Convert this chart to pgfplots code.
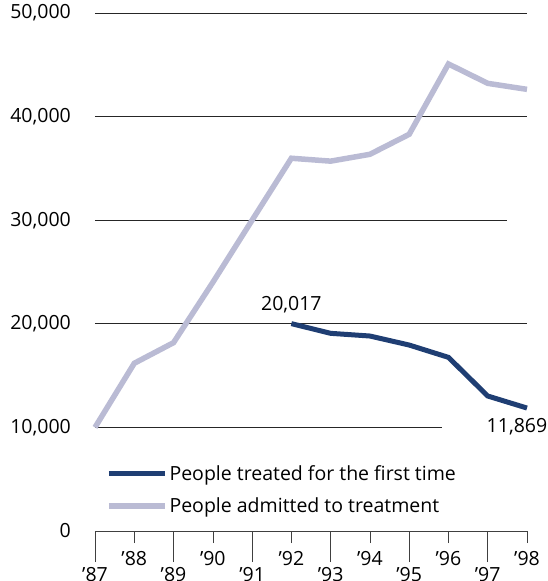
\documentclass[border=0pt]{standalone}
\usepackage{pgfplots}
\pgfplotsset{compat=1.18}
\usepackage{fontspec}
\setmainfont{Open Sans}
\definecolor{navy}{RGB}{31,62,115}
\definecolor{lav}{RGB}{186,187,212}
\newcommand{\fs}{\fontsize{19.5}{21}\selectfont}
\begin{document}
\begin{tikzpicture}
\begin{axis}[
  at={(0,0)}, anchor=south west,
  scale only axis, width=432pt, height=518pt,
  xmin=1987, xmax=1998, ymin=0, ymax=50000,
  clip=false,
  axis x line*=bottom, axis y line*=left,
  y axis line style={draw=none},
  x axis line style={line width=0.6pt, black!75, -},
  ytick={0,10000,20000,30000,40000,50000},
  yticklabels={0,{10,000},{20,000},{30,000},{40,000},{50,000}},
  ytick style={draw=none},
  yticklabel style={font=\fs, inner sep=0pt, xshift=-24pt},
  xtick={1988,1990,1992,1994,1996,1998},
  xticklabels={’88,’90,’92,’94,’96,’98},
  xtick align=outside,
  major tick length=12pt,
  xtick style={line width=0.6pt, black!75},
  xticklabel style={font=\fs, yshift=-5pt},
  extra x ticks={1987,1989,1991,1993,1995,1997},
  extra x tick labels={’87,’89,’91,’93,’95,’97},
  extra x tick style={major tick length=31pt, xticklabel style={yshift=3pt}},
  legend style={draw=none, fill=none, at={(axis cs:1987.2,6750)}, anchor=north west,
    font=\fs, row sep=12pt,
    nodes={inner sep=2pt}},
  legend cell align=left,
  legend image code/.code={\draw[#1] (0pt,0pt) -- (56pt,0pt);},
]
\draw[black!85, line width=0.8pt] (axis cs:1987,50000) -- (axis cs:1998,50000);
\draw[black!85, line width=0.8pt] (axis cs:1987,40000) -- (axis cs:1998,40000);
\draw[black!85, line width=0.8pt] (axis cs:1987,30000) -- (axis cs:1997.49,30000);
\draw[black!85, line width=0.8pt] (axis cs:1987,20000) -- (axis cs:1998,20000);
\draw[black!85, line width=0.8pt] (axis cs:1987,10000) -- (axis cs:1995.84,10000);
\addplot[navy, line width=5pt] coordinates {
 (1992,20017) (1993,19080) (1994,18820) (1995,17950) (1996,16760) (1997,13030) (1998,11869)};
\addlegendentry{People treated for the first time}
\addplot[lav, line width=5.5pt] coordinates {
 (1987,10000) (1988,16190) (1989,18180) (1990,24000) (1991,30000) (1992,35980)
 (1993,35700) (1994,36360) (1995,38290) (1996,45080) (1997,43210) (1998,42630)};
\addlegendentry{People admitted to treatment}
\node[anchor=south, font=\fs, inner sep=0pt] at ([yshift=10pt]axis cs:1992,20017) {20,017};
\node[anchor=north, font=\fs, inner sep=0pt] at ([yshift=-10pt,xshift=-10pt]axis cs:1998,11869) {11,869};
\end{axis}
\pgfresetboundingbox
\path (-95pt,-50pt) rectangle (452pt,531pt);
\end{tikzpicture}
\end{document}
